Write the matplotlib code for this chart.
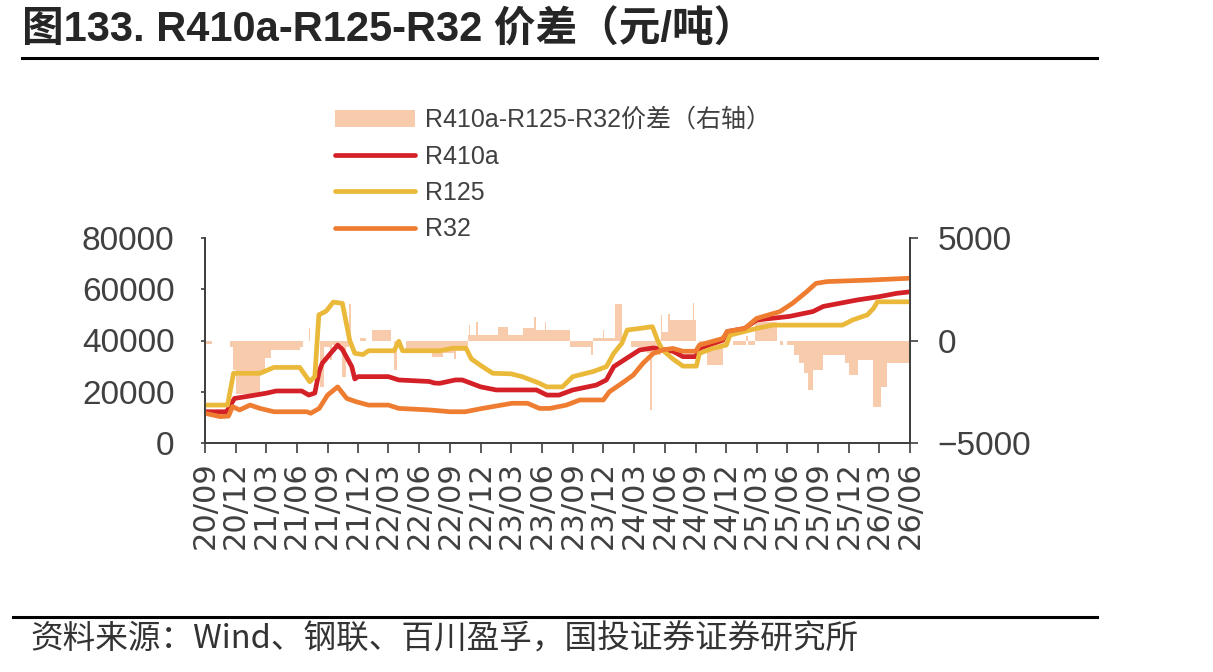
import matplotlib
matplotlib.use("Agg")
import matplotlib.pyplot as plt
import matplotlib.dates as mdates
import pandas as pd
from matplotlib.lines import Line2D

plt.rcParams['font.family'] = ['Liberation Sans', 'Noto Sans CJK SC', 'DejaVu Sans']
plt.rcParams['axes.unicode_minus'] = True

# ---------------- data ----------------
r125_dates = ["2020-09-01", "2020-11-07", "2020-11-25", "2021-02-12", "2021-03-25", "2021-06-10",
              "2021-07-10", "2021-07-25", "2021-08-06", "2021-08-28", "2021-09-18", "2021-10-15",
              "2021-11-06", "2021-11-21", "2021-12-15", "2022-01-01", "2022-03-18", "2022-04-01",
              "2022-04-12", "2022-08-01", "2022-09-10", "2022-10-18", "2022-11-03", "2022-12-06",
              "2023-01-06", "2023-03-01", "2023-04-03", "2023-05-25", "2023-06-15", "2023-08-01",
              "2023-09-01", "2023-11-01", "2023-12-10", "2024-01-01", "2024-01-25", "2024-02-10",
              "2024-03-18", "2024-04-25", "2024-05-10", "2024-05-25", "2024-06-25", "2024-07-25",
              "2024-09-03", "2024-09-12", "2024-10-21", "2024-12-01", "2024-12-12", "2025-03-01",
              "2025-04-18", "2025-11-12", "2025-12-12", "2026-01-25", "2026-02-12", "2026-02-24",
              "2026-06-01"]
r125_vals = [14800, 14800, 27200, 27200, 29500, 29500,
             23900, 26000, 50000, 51500, 55000, 54500,
             40000, 35000, 34500, 36000, 36000, 39700,
             36000, 36000, 37000, 37000, 32800, 29800,
             27200, 27000, 25900, 23300, 21900, 21900,
             25900, 27900, 29800, 35000, 38900, 44100,
             44700, 45400, 40200, 36300, 32800, 30000,
             30000, 35000, 36900, 38200, 42100, 44700,
             46000, 46000, 48000, 50000, 52500, 55100,
             55100]

r410a_dates = ["2020-09-01", "2020-11-04", "2020-11-28", "2021-01-01", "2021-03-01", "2021-04-01",
               "2021-06-16", "2021-07-07", "2021-07-25", "2021-08-07", "2021-08-16", "2021-09-10",
               "2021-10-01", "2021-10-15", "2021-11-12", "2021-11-21", "2021-12-01", "2022-03-01",
               "2022-04-01", "2022-07-01", "2022-07-16", "2022-08-01", "2022-09-16", "2022-10-07",
               "2022-12-01", "2023-01-16", "2023-05-16", "2023-06-16", "2023-07-22", "2023-09-01",
               "2023-11-10", "2023-12-10", "2024-01-01", "2024-02-10", "2024-03-18", "2024-04-28",
               "2024-06-25", "2024-07-25", "2024-09-01", "2024-09-12", "2024-11-21", "2024-12-04",
               "2025-01-25", "2025-03-01", "2025-06-07", "2025-08-16", "2025-09-16", "2025-12-25",
               "2026-03-01", "2026-04-22", "2026-06-01"]
r410a_vals = [12200, 12200, 17400, 18100, 19400, 20300,
              20300, 18700, 19500, 28000, 31100, 35000,
              38200, 36500, 29800, 25000, 25900, 25900,
              24600, 24000, 23400, 23300, 24600, 24600,
              21900, 20700, 20700, 18700, 18700, 20700,
              22600, 24600, 29800, 33200, 36300, 37100,
              35800, 33700, 33700, 36900, 40200, 43500,
              44700, 48000, 49400, 51300, 53300, 55800,
              57100, 58400, 59000]

r32_dates = ["2020-09-01", "2020-10-16", "2020-11-10", "2020-11-22", "2020-12-13", "2021-01-13",
             "2021-02-12", "2021-03-25", "2021-07-01", "2021-07-13", "2021-08-07", "2021-09-01",
             "2021-10-01", "2021-10-28", "2021-11-25", "2022-01-01", "2022-03-01", "2022-04-01",
             "2022-07-01", "2022-09-01", "2022-10-16", "2022-12-06", "2023-03-04", "2023-04-19",
             "2023-05-25", "2023-06-25", "2023-08-13", "2023-09-22", "2023-12-01", "2023-12-19",
             "2024-01-25", "2024-02-28", "2024-03-28", "2024-04-28", "2024-05-25", "2024-06-25",
             "2024-07-25", "2024-09-01", "2024-09-12", "2024-11-21", "2024-12-04", "2025-01-25",
             "2025-03-01", "2025-05-10", "2025-06-16", "2025-07-28", "2025-08-25", "2025-09-28",
             "2026-02-04", "2026-06-01"]
r32_vals = [11600, 10300, 10500, 14200, 12900, 14800,
            13500, 12200, 12200, 11600, 13500, 18700,
            21900, 17400, 16100, 14800, 14800, 13500,
            12900, 12200, 12200, 13500, 15500, 15500,
            13500, 13500, 14800, 16800, 16800, 20000,
            23300, 26500, 31100, 35000, 36300, 36900,
            35800, 35800, 38200, 40800, 43500, 44700,
            48600, 51300, 54500, 59000, 62300, 63000,
            63600, 64300]

spread_dates = ["2020-09-01", "2020-09-22", "2020-11-13", "2020-11-22", "2020-12-01", "2021-01-10",
                "2021-02-12", "2021-02-27", "2021-03-16", "2021-06-10", "2021-06-20", "2021-07-08",
                "2021-07-12", "2021-08-10", "2021-08-22", "2021-09-08", "2021-09-15", "2021-10-15",
                "2021-10-25", "2021-11-05", "2021-11-10", "2021-12-05", "2021-12-25", "2022-01-12",
                "2022-03-08", "2022-03-18", "2022-03-28", "2022-04-22", "2022-07-10", "2022-08-10",
                "2022-09-12", "2022-09-18", "2022-10-25", "2022-10-27", "2022-10-30", "2022-11-18",
                "2022-11-24", "2023-01-20", "2023-02-20", "2023-04-05", "2023-05-10", "2023-05-14",
                "2023-06-10", "2023-06-14", "2023-08-25", "2023-10-25", "2023-10-30", "2023-12-01",
                "2023-12-04", "2024-01-06", "2024-01-25", "2024-02-20", "2024-04-10", "2024-04-18",
                "2024-04-24", "2024-05-20", "2024-05-25", "2024-06-10", "2024-06-15", "2024-08-25",
                "2024-08-28", "2024-09-01", "2024-09-12", "2024-10-06", "2024-11-22", "2024-12-01",
                "2024-12-20", "2025-01-28", "2025-02-05", "2025-02-25", "2025-05-01", "2025-05-10",
                "2025-05-20", "2025-06-01", "2025-06-22", "2025-07-05", "2025-07-20", "2025-08-01",
                "2025-08-16", "2025-09-16", "2025-11-18", "2025-12-01", "2025-12-28", "2026-02-12",
                "2026-03-08", "2026-03-26", "2026-06-01"]
spread_vals = [-150, 0, -300, -1460, -2600, -2750,
               -1600, -850, -460, -300, 0, 610,
               0, -2250, -300, -950, -200, -1800,
               -300, 1800, 0, 130, 0, 510,
               0, -1440, 0, -630, -820, -600,
               -900, -500, 250, 760, 250, 900,
               250, 650, 250, 600, 1140, 500,
               900, 500, -300, -700, 130, 500,
               130, 1800, 0, -300, -600, -3400,
               -700, 1240, 400, 1300, 1000, 1830,
               1000, 0, -500, -1200, -200, 0,
               -220, 200, -220, 900, 0, -220,
               0, -200, -700, -1100, -1600, -2400,
               -1450, -700, -1100, -1700, -950, -3230,
               -2250, -1100, -1100]

x_ticks = pd.date_range("2020-09-01", "2026-06-01", freq="3MS")
left_ticks = [0, 20000, 40000, 60000, 80000]
right_ticks = [-5000, 0, 5000]

# ---------------- colours ----------------
C_BAR = "#F8CBAD"
C_R410 = "#D42027"
C_R125 = "#EBB93A"
C_R32 = "#EF7D31"
C_TXT = "#404040"

fig = plt.figure(figsize=(12.13, 6.72), dpi=100)
ax = fig.add_axes([205/1213, 1-443/672, 705/1213, 205/672])
ax2 = ax.twinx()

sd = pd.to_datetime(spread_dates)
bars = ax2.fill_between(sd, spread_vals, 0, step="post", color=C_BAR, lw=0,
                        label="R410a-R125-R32价差（右轴）")
l1, = ax.plot(pd.to_datetime(r410a_dates), r410a_vals, color=C_R410, lw=3.4, label="R410a",
              solid_capstyle="round", solid_joinstyle="round")
l2, = ax.plot(pd.to_datetime(r125_dates), r125_vals, color=C_R125, lw=3.4, label="R125",
              solid_capstyle="round", solid_joinstyle="round")
l3, = ax.plot(pd.to_datetime(r32_dates), r32_vals, color=C_R32, lw=3.4, label="R32",
              solid_capstyle="round", solid_joinstyle="round")

ax.set_zorder(ax2.get_zorder() + 1)
ax.patch.set_visible(False)

ax.set_xlim(x_ticks[0], x_ticks[-1])
ax.set_ylim(0, 80000)
ax2.set_ylim(-5000, 5000)
ax.set_yticks(left_ticks)
ax2.set_yticks(right_ticks)
ax.set_xticks(x_ticks)
ax.xaxis.set_major_formatter(mdates.DateFormatter("%y/%m"))

for a in (ax, ax2):
    a.spines['top'].set_visible(False)
    for s in ('left', 'right', 'bottom'):
        a.spines[s].set_color(C_TXT)
        a.spines[s].set_linewidth(1.3)

ax.tick_params(axis='x', direction='out', length=7, width=1.2, color=C_TXT, pad=6,
               labelsize=22, labelcolor=C_TXT, labelrotation=90)
ax.tick_params(axis='y', direction='out', length=3, width=1.2, color=C_TXT, pad=19,
               labelsize=24, labelcolor=C_TXT)
ax2.tick_params(axis='y', direction='out', length=6, width=1.2, color=C_TXT, pad=14,
                labelsize=24, labelcolor=C_TXT)
for t in ax.get_xticklabels():
    t.set_fontfamily('DejaVu Sans')

leg = fig.legend(handles=[bars, l1, l2, l3], loc='upper left',
                 bbox_to_anchor=(335/1213, 1-108/672), frameon=False,
                 prop={'family': ['Liberation Sans', 'Noto Sans CJK SC'], 'size': 18},
                 handlelength=3.2, handletextpad=0.4, labelspacing=0.5, borderaxespad=0,
                 borderpad=0)
for t in leg.get_texts():
    t.set_color(C_TXT)

# title
fig.text(22/1213, 1-30/672, "图133. R410a-R125-R32 价差（元/吨）", fontsize=30, fontweight='bold',
         family=['Liberation Sans', 'Noto Sans CJK SC'], color="#262626", va='center', ha='left')
fig.add_artist(Line2D([22/1213, 1097/1213], [1-58/672, 1-58/672], color='black', lw=2.2))
fig.add_artist(Line2D([13/1213, 1097/1213], [1-617/672, 1-617/672], color='black', lw=2.2))
fig.text(30/1213, 1-640/672, "资料来源：Wind、钢联、百川盈孚，国投证券证券研究所", fontsize=23.5,
         family=['Noto Sans CJK SC', 'DejaVu Sans'], color="#333333", va='center', ha='left',
         fontweight='light')

fig.savefig("out.png", dpi=100)
